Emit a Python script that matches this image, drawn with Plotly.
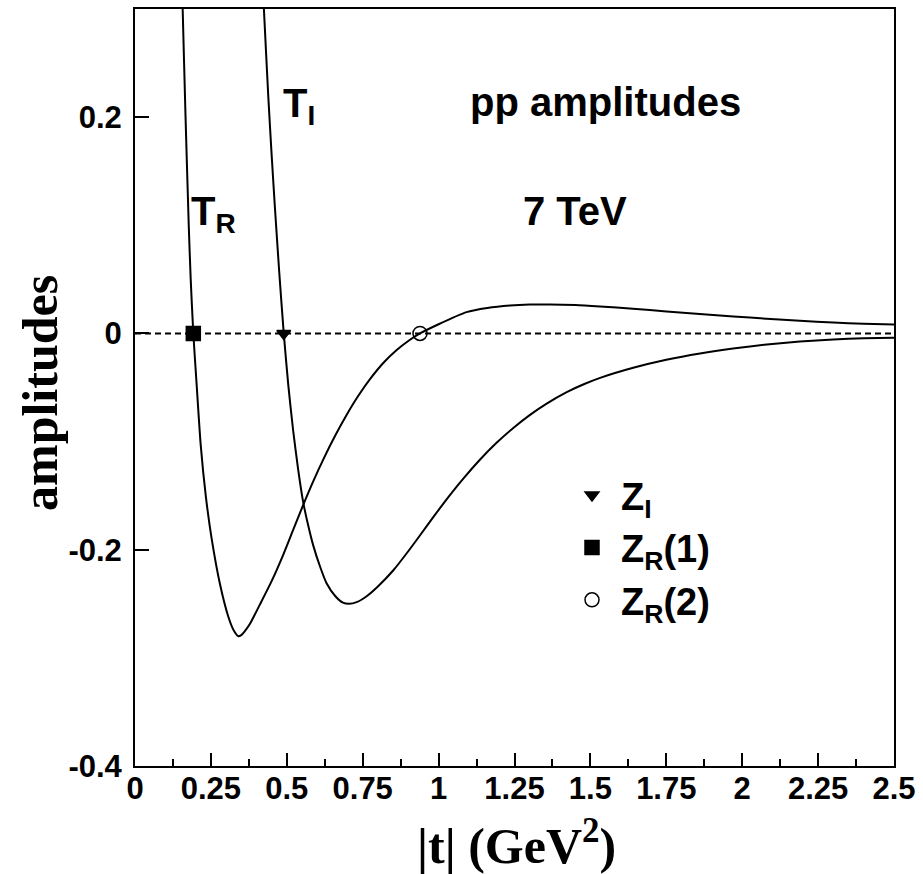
import plotly.graph_objects as go

# |t| (GeV^2) and amplitude values
t_R = [0.150, 0.157, 0.1665, 0.177, 0.1835, 0.1921, 0.2032, 0.2164, 0.2339, 0.2526,
       0.280, 0.3074, 0.325, 0.3403, 0.350, 0.360, 0.3788, 0.4117, 0.450, 0.4885, 0.520, 0.5544,
       0.5874, 0.6203, 0.660, 0.6973, 0.735, 0.774, 0.820, 0.862, 0.900, 0.9387,
       1.000, 1.092, 1.160, 1.235, 1.300, 1.367, 1.450, 1.532, 1.640, 1.751,
       1.860, 1.971, 2.080, 2.190, 2.300, 2.400, 2.500]
T_R = [0.380, 0.300, 0.200, 0.100, 0.050, 0.000, -0.048, -0.103, -0.152, -0.190,
       -0.232, -0.262, -0.2745, -0.2800, -0.2790, -0.2760, -0.2685, -0.2505, -0.2291, -0.2045, -0.1824, -0.1583,
       -0.1365, -0.1164, -0.0942, -0.0752, -0.0579, -0.0423, -0.0267, -0.0154, -0.0070, 0.000,
       0.0085, 0.0197, 0.0235, 0.0258, 0.0267, 0.0268, 0.0262, 0.0249, 0.0228, 0.0203,
       0.0180, 0.0157, 0.0136, 0.0117, 0.0100, 0.0090, 0.0083]

t_I = [0.415, 0.425, 0.439, 0.450, 0.461, 0.475, 0.490, 0.505, 0.521, 0.537,
       0.554, 0.570, 0.587, 0.610, 0.631, 0.660, 0.685, 0.705, 0.730, 0.763,
       0.800, 0.851, 0.900, 0.939, 0.980, 1.027, 1.080, 1.136, 1.190, 1.246,
       1.300, 1.356, 1.422, 1.480, 1.532, 1.641, 1.750, 1.861, 1.970, 2.081,
       2.190, 2.300, 2.400, 2.500]
T_I = [0.360, 0.2976, 0.2192, 0.1653, 0.1158, 0.057, 0.000, -0.048, -0.090, -0.125,
       -0.156, -0.177, -0.196, -0.216, -0.231, -0.243, -0.249, -0.250, -0.2485, -0.243,
       -0.234, -0.219, -0.2014, -0.1866, -0.1708, -0.1532, -0.1347, -0.1168, -0.1014, -0.0874,
       -0.0755, -0.0649, -0.0543, -0.0468, -0.0411, -0.0318, -0.0244, -0.0185, -0.0139, -0.0102,
       -0.0075, -0.0055, -0.0045, -0.0039]

# zeros of the amplitudes
zero_names = ["Z<sub>I</sub>", "Z<sub>R</sub>(1)", "Z<sub>R</sub>(2)"]
zero_t = [0.490, 0.1921, 0.9387]
zero_v = [0.0, 0.0, 0.0]
zero_symbols = ["triangle-down", "square", "circle-open"]
zero_sizes = [12, 14, 14]

x_tickvals = [0, 0.25, 0.5, 0.75, 1, 1.25, 1.5, 1.75, 2, 2.25, 2.5]
x_ticktext = ["0", "0.25", "0.5", "0.75", "1", "1.25", "1.5", "1.75", "2", "2.25", "2.5"]
y_tickvals = [0.2, 0.0, -0.2, -0.4]
y_ticktext = ["0.2", "0", "-0.2", "-0.4"]

SANS = "Liberation Sans"
SERIF = "Liberation Serif"

fig = go.Figure()
fig.add_trace(go.Scatter(x=t_R, y=T_R, mode="lines", line=dict(color="black", width=2, shape="spline", smoothing=0.6),
                         showlegend=False, hoverinfo="skip"))
fig.add_trace(go.Scatter(x=t_I, y=T_I, mode="lines", line=dict(color="black", width=2, shape="spline", smoothing=0.6),
                         showlegend=False, hoverinfo="skip"))

# dashed zero line
fig.add_shape(type="line", xref="paper", yref="y", x0=0, x1=1, y0=0, y1=0,
              line=dict(color="black", width=2, dash="6px,4px"), layer="below")

for i in range(3):
    fig.add_trace(go.Scatter(x=[zero_t[i]], y=[zero_v[i]], mode="markers", name=zero_names[i],
                             legendgroup=str(i),
                             marker=dict(symbol=zero_symbols[i], size=zero_sizes[i], color="black",
                                         line=dict(color="black", width=1.5))))

fig.update_layout(
    width=923, height=874,
    margin=dict(l=135, r=29, t=7, b=108),
    plot_bgcolor="white", paper_bgcolor="white",
    showlegend=True,
    legend=dict(x=(563 - 135) / 759, y=(766 - 463) / 759, xanchor="left", yanchor="top",
                bgcolor="rgba(0,0,0,0)", font=dict(family=SANS, size=38, color="black", weight="bold"),
                tracegroupgap=0, traceorder="grouped", itemsizing="trace", itemwidth=48),
    font=dict(family=SANS, color="black"),
)

fig.update_xaxes(range=[0, 2.5], tickmode="array", tickvals=x_tickvals, ticktext=x_ticktext,
                 ticks="inside", ticklen=13, tickwidth=1.5, tickcolor="black",
                 minor=dict(dtick=0.125, tick0=0, ticks="inside", ticklen=7, tickwidth=1.5, tickcolor="black"),
                 showline=True, linecolor="black", linewidth=2, mirror=True,
                 showgrid=False, zeroline=False,
                 tickfont=dict(family=SANS, size=31, color="black", weight="bold"), ticklabelstandoff=-6)
fig.update_yaxes(range=[-0.4, 0.3], tickmode="array", tickvals=y_tickvals, ticktext=y_ticktext,
                 ticks="inside", ticklen=14, tickwidth=1.5, tickcolor="black",
                 showline=True, linecolor="black", linewidth=2, mirror=True,
                 showgrid=False, zeroline=False,
                 tickfont=dict(family=SANS, size=31, color="black", weight="bold"), ticklabelstandoff=5)

def px(x):
    return (x - 135) / 759

def py(y):
    return (766 - y) / 759

ann_font = dict(family=SANS, size=40, color="black", weight="bold")
fig.add_annotation(text="pp amplitudes", xref="paper", yref="paper", x=px(468), y=py(100),
                   xanchor="left", yanchor="middle", showarrow=False, font=ann_font)
fig.add_annotation(text="7 TeV", xref="paper", yref="paper", x=px(521), y=py(210),
                   xanchor="left", yanchor="middle", showarrow=False, font=ann_font)
fig.add_annotation(text="T<sub>R</sub>", xref="paper", yref="paper", x=px(189), y=py(213),
                   xanchor="left", yanchor="middle", showarrow=False, font=ann_font)
fig.add_annotation(text="T<sub>I</sub>", xref="paper", yref="paper", x=px(281), y=py(104),
                   xanchor="left", yanchor="middle", showarrow=False, font=ann_font)

title_font = dict(family=SERIF, size=50, color="black", weight="bold")
fig.add_annotation(text="|t| (GeV<sup>2</sup>)", xref="paper", yref="paper", x=px(516), y=py(843),
                   xanchor="center", yanchor="middle", showarrow=False, font=title_font)
fig.add_annotation(text="amplitudes", xref="paper", yref="paper", x=px(40), y=py(392),
                   xanchor="center", yanchor="middle", textangle=-90, showarrow=False, font=title_font)

fig.write_html("out.html")
